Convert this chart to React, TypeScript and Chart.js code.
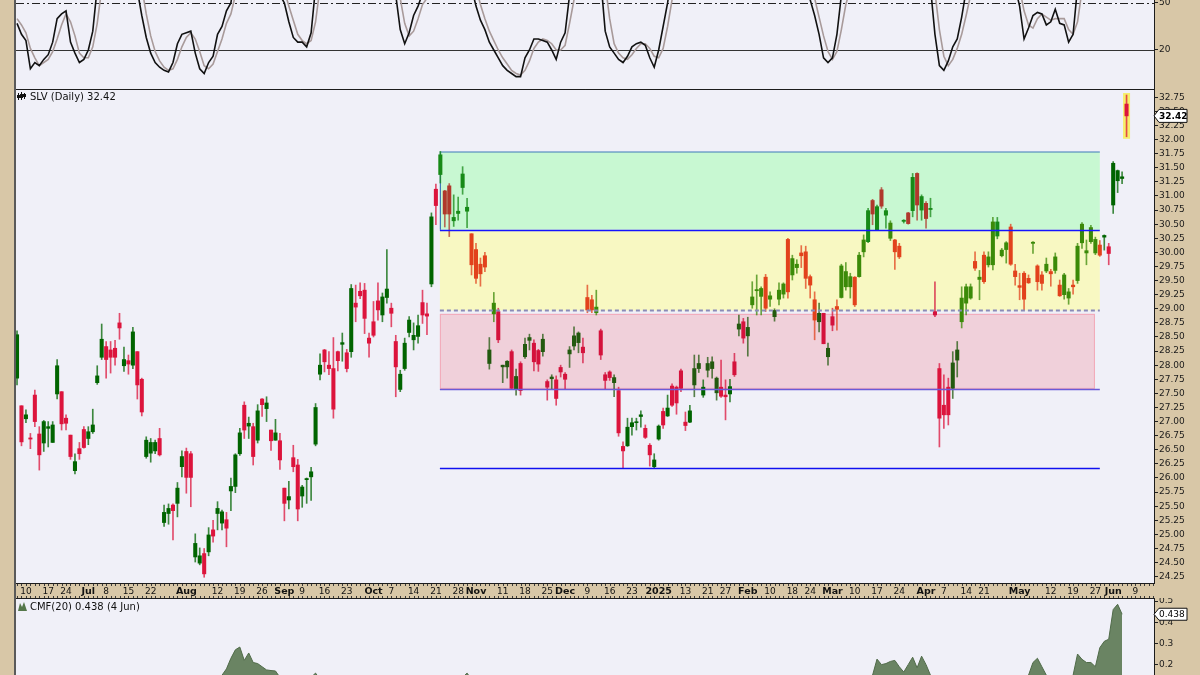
import React, { useEffect, useRef } from 'react';
import { Chart, registerables } from 'chart.js';

Chart.register(...registerables);

const FONT = "'DejaVu Sans', 'Liberation Sans', sans-serif";
const PAGE_BG = '#d8c7a7';
const PLOT_BG = '#f0f0f8';

// trading-day index: 0 = 1 Jul 2024; first candle = 6 Jun 2024 (index -16)
const FIRST_DAY = -16;
const X_MIN = -16.23;
const X_MAX = 239.16;

const opens = [
  27.77,27.28,27.05,26.71,27.47,26.78,26.62,26.88,26.63,27.49,
  27.53,27.06,26.76,26.13,26.52,26.86,
  26.70,26.82,27.69,28.14,28.33,28.27,28.30,28.75,27.99,28.08,
  28.00,28.24,27.75,26.38,26.44,26.48,26.70,25.21,25.37,25.52,
  25.55,26.20,26.47,26.43,24.60,24.49,24.66,24.69,25.08,25.37,
  25.20,25.26,25.77,25.85,26.43,27.29,26.92,26.91,26.67,27.40,
  27.23,26.85,26.67,26.66,25.82,25.61,26.36,26.23,25.68,25.97,
  26.02,26.60,27.84,28.27,28.00,27.94,28.24,28.37,28.22,28.24,
  29.10,29.31,29.33,28.48,28.77,29.14,28.89,29.20,29.01,28.42,
  27.57,27.94,28.58,28.45,28.51,29.11,28.91,29.44,31.12,31.38,
  31.09,31.18,30.56,30.69,31.15,30.73,30.33,30.05,29.79,29.94,
  28.03,28.91,28.95,27.97,27.97,28.24,27.57,28.03,28.15,28.44,
  28.39,28.26,28.24,27.71,27.76,27.74,27.96,27.84,28.20,28.34,
  28.40,28.32,29.20,29.16,28.93,28.61,27.83,27.88,27.69,27.55,
  26.56,26.57,26.91,26.98,27.09,26.88,26.58,26.20,26.69,27.18,
  27.10,27.63,27.61,27.90,26.99,26.99,27.65,27.94,27.47,27.91,
  27.94,27.51,27.61,27.47,27.49,28.06,28.64,28.77,28.52,29.07,
  29.32,29.22,29.56,29.17,28.86,29.17,29.26,30.23,29.60,29.73,
  29.99,30.01,29.57,29.16,28.77,28.92,28.15,28.86,29.04,29.20,
  29.39,29.39,29.56,29.57,30.01,30.19,30.92,30.40,31.11,30.66,
  30.25,30.22,30.11,30.55,30.70,30.74,31.40,30.75,30.87,30.76,
  28.95,27.94,27.29,27.61,27.59,28.09,28.77,29.10,29.19,29.84,
  29.52,29.95,29.78,29.78,30.29,29.94,30.05,30.45,29.67,29.41,
  29.63,29.54,30.16,29.76,29.60,29.67,29.66,29.68,29.42,29.25,
  29.19,29.42,29.50,30.17,29.99,30.19,29.99,30.13,30.27,30.10,
  30.84,31.27,31.31,32.63,
];
const highs = [
  28.61,27.28,27.21,26.79,27.56,26.91,27.02,27.00,27.00,28.10,
  27.53,27.12,26.76,26.43,26.63,26.91,
  26.91,27.22,27.99,28.73,28.42,28.42,28.44,28.92,28.32,28.18,
  28.67,28.24,27.77,26.73,26.70,26.67,26.88,25.52,25.54,25.54,
  25.92,26.48,26.53,26.47,25.01,24.76,24.75,25.12,25.25,25.58,
  25.43,25.39,26.00,26.43,26.88,27.35,27.08,26.97,27.30,27.41,
  27.44,26.85,27.04,26.79,25.82,25.94,26.58,26.33,25.87,26.00,
  26.19,27.32,28.20,28.28,28.24,28.49,28.25,28.57,28.28,29.43,
  29.42,29.46,29.45,28.57,29.13,29.46,29.28,30.05,29.10,28.53,
  27.91,28.48,28.86,28.75,28.89,29.33,29.10,30.70,31.21,31.79,
  31.10,31.22,31.02,30.98,31.52,30.96,30.33,30.16,29.90,30.00,
  28.49,29.29,29.01,28.00,28.08,28.27,27.93,28.06,28.48,28.55,
  28.45,28.28,28.55,27.74,27.83,27.81,28.00,27.87,28.33,28.68,
  28.59,28.48,29.42,29.24,29.33,28.64,27.87,27.90,27.83,27.61,
  26.64,27.06,27.06,27.06,27.19,26.94,26.61,26.43,26.94,27.24,
  27.47,27.67,27.63,27.93,27.17,27.29,28.18,28.18,27.74,28.14,
  28.15,27.79,28.09,27.74,27.75,28.21,28.89,28.83,28.85,29.48,
  29.60,29.39,29.61,29.30,29.00,29.46,29.46,30.25,29.95,29.87,
  30.12,30.11,29.60,29.30,29.10,28.92,28.39,29.01,29.16,29.79,
  29.82,29.63,29.57,30.00,30.31,30.78,30.94,30.84,31.15,30.78,
  30.56,30.23,30.16,30.58,30.71,31.40,31.41,31.02,30.90,30.96,
  29.48,28.03,27.83,27.77,28.24,28.42,29.39,29.44,29.44,30.01,
  29.68,30.01,30.01,30.62,30.62,30.07,30.19,30.50,29.79,29.63,
  29.66,29.60,30.19,29.78,29.66,29.90,29.70,29.99,29.51,29.63,
  29.36,29.51,30.16,30.53,30.22,30.48,30.27,30.21,30.31,30.16,
  31.61,31.46,31.43,32.79,
];
const lows = [
  27.65,26.57,26.98,26.52,26.91,26.14,26.47,26.55,26.63,27.40,
  26.85,26.85,26.33,26.07,26.33,26.53,
  26.59,26.79,27.66,28.10,27.77,27.86,28.00,28.46,27.89,27.84,
  27.94,27.40,27.10,26.35,26.28,26.43,26.39,25.14,25.18,24.90,
  25.31,26.02,25.73,25.49,24.51,24.46,24.24,24.62,24.86,25.08,
  25.08,24.78,25.42,25.74,26.40,26.70,26.70,26.23,26.62,27.09,
  27.00,26.49,26.67,26.15,25.24,25.45,26.11,25.24,25.48,25.55,
  25.60,26.57,27.74,27.88,27.83,27.06,27.90,28.07,27.88,28.14,
  28.77,29.18,28.56,28.14,28.50,28.80,28.77,29.10,28.68,27.44,
  27.53,27.91,28.50,28.27,28.39,28.74,28.54,29.39,30.49,31.23,
  30.45,30.28,30.46,30.57,31.03,30.44,29.60,29.45,29.40,29.66,
  27.93,28.77,28.40,27.69,27.77,27.57,27.47,27.47,28.12,28.27,
  27.90,27.89,28.16,27.38,27.57,27.29,27.79,27.57,27.96,28.27,
  28.22,28.04,28.93,28.93,28.89,28.10,27.57,27.73,27.44,26.74,
  26.17,26.56,26.76,26.85,26.90,26.70,26.21,26.17,26.67,26.88,
  27.09,27.27,27.13,27.53,26.84,26.98,27.44,27.87,27.43,27.79,
  27.77,27.38,27.43,27.03,27.35,27.80,28.52,28.39,28.16,29.01,
  28.89,28.89,28.95,29.04,28.78,29.07,29.19,29.19,29.51,29.63,
  29.73,29.36,29.19,28.45,28.59,28.38,28.00,28.61,28.62,29.19,
  29.33,29.19,29.04,29.56,29.92,30.17,30.49,30.40,30.78,30.43,
  30.21,29.70,29.89,30.52,30.50,30.63,30.57,30.57,30.43,30.63,
  28.86,26.55,26.88,26.94,27.41,27.79,28.66,28.89,29.17,29.68,
  29.16,29.45,29.74,29.69,30.24,29.92,29.81,29.77,29.42,29.16,
  28.98,29.45,29.98,29.33,29.33,29.64,29.40,29.63,29.22,29.17,
  29.08,29.26,29.45,30.07,29.78,30.16,29.96,29.93,30.04,29.78,
  30.69,31.06,31.22,32.05,
];
const closes = [
  28.54,26.64,27.12,26.69,27.00,26.41,27.00,26.91,26.94,27.99,
  26.96,26.97,26.38,26.29,26.43,26.54,
  26.82,26.94,27.81,28.46,28.10,28.14,28.14,28.66,28.10,28.02,
  28.59,27.65,27.17,26.67,26.63,26.63,26.41,25.39,25.46,25.42,
  25.82,26.38,26.01,26.01,24.84,24.62,24.30,24.99,24.97,25.46,
  25.40,25.11,25.85,26.41,26.80,26.85,26.97,26.38,27.19,27.30,
  27.33,26.66,26.80,26.32,25.55,25.67,26.20,25.45,25.84,25.99,
  26.11,27.25,28.00,28.06,27.94,27.22,28.08,28.40,27.94,29.36,
  29.03,29.23,28.83,28.39,28.53,28.98,29.21,29.35,28.92,27.97,
  27.84,28.39,28.80,28.53,28.70,28.89,28.87,30.63,30.83,31.73,
  30.68,30.68,30.62,30.73,31.39,30.80,29.78,29.54,29.62,29.74,
  28.27,29.10,28.45,28.00,28.07,27.59,27.80,27.55,28.37,28.49,
  28.06,28.02,28.46,27.61,27.79,27.41,27.88,27.75,28.27,28.52,
  28.57,28.22,28.98,28.98,29.03,28.18,27.73,27.78,27.78,26.80,
  26.48,26.90,26.98,26.99,27.12,26.72,26.41,26.32,26.92,26.94,
  27.24,27.29,27.33,27.59,26.93,27.19,27.94,28.03,27.61,28.03,
  28.06,27.77,27.45,27.44,27.62,27.83,28.73,28.48,28.67,29.21,
  29.34,29.36,29.01,29.23,28.97,29.33,29.44,29.30,29.89,29.79,
  29.94,29.54,29.42,28.80,28.92,28.38,28.30,28.71,28.99,29.76,
  29.66,29.57,29.07,29.95,30.22,30.74,30.68,30.81,30.82,30.74,
  30.52,30.01,29.92,30.57,30.51,31.33,30.84,30.99,30.60,30.78,
  28.89,27.06,27.12,27.12,28.04,28.27,29.19,29.39,29.39,29.72,
  29.56,29.48,29.92,30.54,30.54,30.04,30.17,29.79,29.57,29.38,
  29.17,29.46,30.18,29.48,29.45,29.79,29.62,29.92,29.23,29.60,
  29.30,29.39,30.11,30.50,30.03,30.44,30.23,29.95,30.30,29.98,
  31.58,31.45,31.34,32.42,
];

const stochK = [
  37,30,26,8,12,10,14,17,25,40,
  43,45,25,18,12,14,
  20,32,60,85,80,78,80,90,75,72,
  80,58,42,28,18,12,9,7,6,12,
  24,30,31,32,18,8,5,12,16,30,
  35,45,50,70,85,90,80,70,82,88,
  90,75,68,55,50,38,28,25,25,22,
  31,60,88,85,82,70,78,84,80,92,
  90,92,85,75,78,82,84,88,70,55,
  33,24,31,42,48,56,55,88,92,96,
  85,80,75,74,85,72,60,48,39,33,
  25,20,15,10,7,5,3,3,15,20,
  27,27,26,25,20,14,25,31,55,70,
  75,72,88,90,88,65,32,22,18,14,
  12,16,22,24,25,23,15,9,20,35,
  50,70,72,80,60,65,85,88,75,85,
  86,78,75,72,74,82,92,88,86,92,
  94,93,85,85,80,84,86,70,78,76,
  75,65,52,42,30,15,12,15,30,55,
  62,60,55,70,80,92,88,90,94,88,
  80,70,68,80,78,92,85,84,80,60,
  30,10,7,13,22,27,41,58,65,78,
  70,72,78,90,92,85,84,70,60,48,
  27,34,42,44,43,36,38,46,37,36,
  25,30,60,85,78,85,82,78,82,78,
  95,94,92,96,
];
const stochD = [
  40,36,31,21,15,10,12,14,19,27,
  36,43,38,29,18,15,
  15,22,37,59,75,81,79,83,82,79,
  76,70,60,43,29,19,13,9,7,8,
  14,22,28,31,27,19,10,8,11,19,
  27,37,43,55,68,82,85,80,77,80,
  87,84,78,66,58,48,39,30,26,24,
  26,38,60,78,85,79,77,77,81,85,
  87,91,89,84,79,78,81,85,81,71,
  53,37,29,32,40,49,53,66,78,92,
  91,87,80,76,78,77,72,60,49,40,
  32,26,20,15,11,7,5,4,7,13,
  21,25,27,26,24,20,20,23,37,52,
  67,72,78,83,89,81,62,40,24,18,
  15,14,17,21,24,24,21,16,15,21,
  35,52,64,74,71,68,70,79,83,83,
  82,83,80,75,74,76,83,87,89,89,
  91,93,91,88,83,83,83,80,78,75,
  76,72,64,53,41,29,19,14,19,33,
  49,59,59,62,68,81,87,90,91,91,
  87,79,73,73,75,83,85,87,83,75,
  57,33,16,10,14,21,30,42,55,67,
  71,73,73,80,87,89,87,80,71,59,
  45,36,34,40,43,41,39,40,40,40,
  33,30,38,58,74,83,82,82,81,79,
  85,89,94,94,
];

const cmfValues = [
  0.02,0.01,-0.02,-0.04,-0.03,-0.05,-0.02,0.01,0.03,0.02,
  -0.01,-0.03,-0.04,-0.02,0.00,0.02,
  0.04,0.06,0.08,0.10,0.09,0.08,0.07,0.09,0.06,0.05,
  0.07,0.05,0.02,0.00,-0.02,-0.03,-0.05,-0.04,-0.02,0.00,
  0.02,0.05,0.06,0.07,0.05,0.04,0.03,0.06,0.08,0.12,
  0.15,0.18,0.23,0.27,0.283,0.22,0.255,0.21,0.205,0.19,
  0.175,0.172,0.17,0.14,0.10,0.09,0.11,0.10,0.12,0.13,
  0.14,0.16,0.13,0.11,0.10,0.08,0.09,0.10,0.09,0.12,
  0.11,0.10,0.08,0.06,0.07,0.08,0.09,0.10,0.08,0.05,
  0.04,0.06,0.07,0.08,0.09,0.10,0.09,0.12,0.13,0.14,
  0.12,0.11,0.12,0.13,0.14,0.16,0.13,0.10,0.08,0.07,
  0.05,0.06,0.04,0.02,0.01,-0.01,-0.02,-0.04,-0.03,-0.02,
  -0.03,-0.05,-0.04,-0.06,-0.07,-0.08,-0.07,-0.06,-0.04,-0.03,
  -0.02,-0.03,0.00,0.01,0.02,0.00,-0.03,-0.05,-0.06,-0.09,
  -0.10,-0.08,-0.07,-0.06,-0.05,-0.07,-0.08,-0.06,-0.04,-0.03,
  -0.02,-0.01,0.00,0.01,-0.01,0.00,0.02,0.03,0.02,0.04,
  0.05,0.04,0.03,0.02,0.03,0.05,0.07,0.06,0.05,0.08,
  0.09,0.10,0.08,0.09,0.07,0.08,0.10,0.09,0.11,0.12,
  0.11,0.10,0.08,0.05,0.06,0.04,0.03,0.05,0.06,0.09,
  0.10,0.11,0.09,0.11,0.12,0.13,0.15,0.226,0.20,0.205,
  0.215,0.22,0.19,0.165,0.20,0.235,0.185,0.24,0.20,0.15,
  0.10,0.06,0.04,0.03,0.05,0.06,0.08,0.09,0.10,0.11,
  0.12,0.11,0.12,0.13,0.14,0.13,0.12,0.11,0.10,0.12,
  0.14,0.15,0.21,0.23,0.19,0.15,0.12,0.11,0.10,0.11,
  0.12,0.15,0.25,0.225,0.21,0.21,0.19,0.28,0.31,0.32,
  0.46,0.485,0.438,
];

const priceTicks = [24.25,24.5,24.75,25,25.25,25.5,25.75,26,26.25,26.5,26.75,27,27.25,27.5,27.75,28,28.25,28.5,28.75,29,29.25,29.5,29.75,30,30.25,30.5,30.75,31,31.25,31.5,31.75,32,32.25,32.5,32.75];
const stochTicks = [20, 50];
const cmfTicks = [0.2, 0.3, 0.4, 0.5];
const xTickDays = [-14,-9,-5,0,4,9,14,22,29,34,39,44,48,53,58,64,68,73,78,83,87,93,98,103,107,112,117,122,128,134,139,143,148,153,158,162,167,172,177,182,188,192,197,201,209,216,221,226,230,235];
const xTickLabels = ['10','17','24','Jul','8','15','22','Aug','12','19','26','Sep','9','16','23','Oct','7','14','21','28','Nov','11','18','25','Dec','9','16','23','2025','13','21','27','Feb','10','18','24','Mar','10','17','24','Apr','7','14','21','May','12','19','27','Jun','9'];

const PRICE_MIN = 24.138, PRICE_MAX = 32.879;
const STOCH_MIN = -4.9, STOCH_MAX = 51.9;
const CMF_MIN = 0.151, CMF_MAX = 0.51;

// annotation zones
const zoneStartDay = 78.9;
const zoneEndDay = 227.0;
const pinkEndDay = 225.9;
const greenTop = 31.78;
const resistanceLine = 30.40;
const dashedLine = 28.97;
const pinkTop = 28.91;
const supportLine = 27.58;
const lowLine = 26.18;

const candlePalette: Record<string, [string, string]> = {
  none: ['#006400', '#dc143c'],
  green: ['#178a17', '#b0382c'],
  yellow: ['#3b8a08', '#e2421c'],
  pink: ['#23590f', '#d4123c'],
};

function zoneOf(i: number): string {
  const day = FIRST_DAY + i;
  if (day < zoneStartDay || day > zoneEndDay) return 'none';
  const mid = (opens[i] + closes[i]) / 2;
  if (mid > resistanceLine && mid <= greenTop + 0.1) return 'green';
  if (mid > dashedLine && mid <= resistanceLine) return 'yellow';
  if (mid >= supportLine && mid <= pinkTop + 0.04) return 'pink';
  return 'none';
}
function candleColor(i: number): string {
  const up = closes[i] >= opens[i];
  return candlePalette[zoneOf(i)][up ? 0 : 1];
}
function withAlpha(hex: string, a: number): string {
  const r = parseInt(hex.slice(1, 3), 16), g = parseInt(hex.slice(3, 5), 16), b = parseInt(hex.slice(5, 7), 16);
  return `rgba(${r},${g},${b},${a})`;
}

const panelPlugin = {
  id: 'panelFrame',
  beforeDraw(chart: any) {
    const { ctx, chartArea: a } = chart;
    ctx.save();
    ctx.fillStyle = PLOT_BG;
    ctx.fillRect(a.left, a.top, a.right - a.left, a.bottom - a.top);
    ctx.restore();
  },
  afterDraw(chart: any) {
    const { ctx, chartArea: a } = chart;
    ctx.save();
    ctx.strokeStyle = '#1c1c1c';
    ctx.lineWidth = 1;
    ctx.beginPath();
    ctx.moveTo(a.left, a.top - 0.5); ctx.lineTo(a.right + 0.5, a.top - 0.5);
    ctx.lineTo(a.right + 0.5, a.bottom + 0.5); ctx.lineTo(a.left, a.bottom + 0.5);
    ctx.stroke();
    ctx.strokeStyle = '#5a5a5a';
    ctx.lineWidth = 2;
    ctx.beginPath();
    ctx.moveTo(a.left - 1, a.top - 1); ctx.lineTo(a.left - 1, a.bottom + 1);
    ctx.stroke();
    ctx.restore();
  },
};

const stochLevelsPlugin = {
  id: 'stochLevels',
  beforeDatasetsDraw(chart: any) {
    const { ctx, chartArea: a, scales } = chart;
    const y50 = Math.round(scales.y.getPixelForValue(stochTicks[1])) + 0.5;
    const y20 = Math.round(scales.y.getPixelForValue(stochTicks[0])) + 0.5;
    ctx.save();
    ctx.strokeStyle = '#222';
    ctx.lineWidth = 1;
    ctx.setLineDash([8, 3, 2, 3]);
    ctx.beginPath(); ctx.moveTo(a.left, y50); ctx.lineTo(a.right, y50); ctx.stroke();
    ctx.setLineDash([]);
    ctx.strokeStyle = '#333';
    ctx.lineWidth = 1.2;
    ctx.beginPath(); ctx.moveTo(a.left, y20); ctx.lineTo(a.right, y20); ctx.stroke();
    ctx.restore();
  },
};

const zonesPlugin = {
  id: 'zones',
  beforeDatasetsDraw(chart: any) {
    const { ctx, scales } = chart;
    const xs = scales.x, ys = scales.y;
    const x0 = xs.getPixelForValue(zoneStartDay);
    const x1 = xs.getPixelForValue(zoneEndDay);
    const xp = xs.getPixelForValue(pinkEndDay);
    const y = (v: number) => ys.getPixelForValue(v);
    ctx.save();
    ctx.fillStyle = '#c8f8d2';
    ctx.fillRect(x0, y(greenTop), x1 - x0, y(resistanceLine) - y(greenTop));
    ctx.fillStyle = '#f8f8c2';
    ctx.fillRect(x0, y(resistanceLine), x1 - x0, y(dashedLine) - y(resistanceLine));
    ctx.fillStyle = '#f0d0da';
    ctx.fillRect(x0, y(pinkTop), xp - x0, y(supportLine) - y(pinkTop));
    ctx.strokeStyle = '#f2a8b8';
    ctx.lineWidth = 1;
    ctx.strokeRect(x0 + 0.5, y(pinkTop) + 0.5, xp - x0 - 1, y(supportLine) - y(pinkTop) - 1);
    ctx.strokeStyle = '#3f78b8';
    ctx.lineWidth = 1.2;
    ctx.beginPath();
    ctx.moveTo(x0 + 0.5, y(resistanceLine)); ctx.lineTo(x0 + 0.5, y(greenTop)); ctx.lineTo(x1, y(greenTop));
    ctx.stroke();
    // highlight of the latest bar
    const last = opens.length - 1;
    const xl = xs.getPixelForValue(FIRST_DAY + last);
    ctx.fillStyle = 'rgba(246,238,90,0.9)';
    ctx.fillRect(xl - 3.5, y(highs[last]) - 2, 7, y(lows[last]) - y(highs[last]) + 4);
    ctx.restore();
  },
  afterDatasetsDraw(chart: any) {
    const { ctx, scales } = chart;
    const xs = scales.x, ys = scales.y;
    const x0 = xs.getPixelForValue(zoneStartDay);
    const x1 = xs.getPixelForValue(zoneEndDay);
    const y = (v: number) => Math.round(ys.getPixelForValue(v)) + 0.5;
    ctx.save();
    ctx.strokeStyle = '#1414ff';
    ctx.lineWidth = 1.6;
    ctx.beginPath(); ctx.moveTo(x0, y(resistanceLine)); ctx.lineTo(x1, y(resistanceLine)); ctx.stroke();
    ctx.strokeStyle = '#8a8ab8';
    ctx.lineWidth = 2;
    ctx.setLineDash([4, 3]);
    ctx.beginPath(); ctx.moveTo(x0, y(dashedLine)); ctx.lineTo(x1, y(dashedLine)); ctx.stroke();
    ctx.setLineDash([]);
    ctx.strokeStyle = '#6a5ad8';
    ctx.lineWidth = 1.6;
    ctx.beginPath(); ctx.moveTo(x0, y(supportLine)); ctx.lineTo(x1, y(supportLine)); ctx.stroke();
    ctx.strokeStyle = '#1010f0';
    ctx.lineWidth = 1.4;
    ctx.beginPath(); ctx.moveTo(x0, y(lowLine)); ctx.lineTo(x1, y(lowLine)); ctx.stroke();
    ctx.restore();
  },
  afterDraw(chart: any) {
    const { ctx, scales, chartArea: a } = chart;
    const xs = scales.x, ys = scales.y;
    ctx.save();
    // date strip: day tick dots
    ctx.strokeStyle = '#3a3a3a';
    ctx.lineWidth = 1;
    const bottom = chart.height;
    for (let d = Math.ceil(X_MIN); d <= Math.floor(X_MAX); d++) {
      const px = Math.round(xs.getPixelForValue(d)) + 0.5;
      ctx.beginPath();
      ctx.moveTo(px, a.bottom + 1); ctx.lineTo(px, a.bottom + 3);
      ctx.moveTo(px, bottom - 3); ctx.lineTo(px, bottom - 1);
      ctx.stroke();
    }
    ctx.beginPath();
    ctx.moveTo(a.left - 2, bottom - 0.5); ctx.lineTo(a.right + 1, bottom - 0.5);
    ctx.stroke();
    ctx.fillStyle = '#5a5a5a';
    ctx.fillRect(a.left - 2, a.bottom, 2, bottom - a.bottom);
    // date labels, placed with the x scale
    ctx.fillStyle = '#111';
    ctx.textAlign = 'center';
    ctx.textBaseline = 'middle';
    xTickDays.forEach((d, i) => {
      const t = xTickLabels[i];
      const isDay = /^[0-9]{1,2}$/.test(t);
      ctx.font = isDay ? `9px ${FONT}` : `bold 9.5px ${FONT}`;
      ctx.fillText(t, xs.getPixelForValue(d), a.bottom + 8.5);
    });
    // title
    ctx.textAlign = 'left';
    ctx.fillStyle = '#111';
    ctx.fillRect(18, a.top + 3, 1, 7);
    ctx.fillRect(17, a.top + 5, 3, 3);
    ctx.fillRect(21, a.top + 2, 1, 8);
    ctx.fillRect(20, a.top + 4, 3, 4);
    ctx.fillRect(24, a.top + 3, 1, 6);
    ctx.fillRect(23, a.top + 4, 3, 3);
    ctx.font = `10px ${FONT}`;
    ctx.fillText('SLV (Daily) ' + closes[closes.length - 1].toFixed(2), 30, a.top + 7);
    // last price box
    const yv = ys.getPixelForValue(closes[closes.length - 1]);
    const bx = a.right + 1;
    ctx.beginPath();
    ctx.moveTo(bx - 1, yv);
    ctx.lineTo(bx + 4, yv - 6.5);
    ctx.lineTo(bx + 32, yv - 6.5);
    ctx.lineTo(bx + 32, yv + 6.5);
    ctx.lineTo(bx + 4, yv + 6.5);
    ctx.closePath();
    ctx.fillStyle = '#ffffff';
    ctx.fill();
    ctx.strokeStyle = '#111';
    ctx.lineWidth = 1;
    ctx.stroke();
    ctx.fillStyle = '#000';
    ctx.font = `bold 9px ${FONT}`;
    ctx.fillText(closes[closes.length - 1].toFixed(2), bx + 4, yv + 0.5);
    ctx.restore();
  },
};

const cmfPlugin = {
  id: 'cmfDecor',
  afterDraw(chart: any) {
    const { ctx, scales, chartArea: a } = chart;
    ctx.save();
    ctx.fillStyle = '#55774a';
    ctx.beginPath();
    ctx.moveTo(18, a.top + 12); ctx.lineTo(20, a.top + 4); ctx.lineTo(22, a.top + 8);
    ctx.lineTo(24, a.top + 3); ctx.lineTo(27, a.top + 12); ctx.closePath();
    ctx.fill();
    const lastVal = cmfValues[cmfValues.length - 1];
    ctx.fillStyle = '#111';
    ctx.font = `10px ${FONT}`;
    ctx.textBaseline = 'middle';
    ctx.fillText('CMF(20) ' + lastVal.toFixed(3) + ' (4 Jun)', 30, a.top + 8);
    const yv = scales.y.getPixelForValue(lastVal);
    const bx = a.right + 1;
    ctx.beginPath();
    ctx.moveTo(bx - 1, yv);
    ctx.lineTo(bx + 4, yv - 6);
    ctx.lineTo(bx + 32, yv - 6);
    ctx.lineTo(bx + 32, yv + 6);
    ctx.lineTo(bx + 4, yv + 6);
    ctx.closePath();
    ctx.fillStyle = '#ffffff';
    ctx.fill();
    ctx.strokeStyle = '#111';
    ctx.stroke();
    ctx.fillStyle = '#000';
    ctx.font = `9px ${FONT}`;
    ctx.fillText(lastVal.toFixed(3), bx + 4, yv + 0.5);
    ctx.restore();
  },
};

function rightAxis(min: number, max: number, ticks: number[], decimals: number) {
  return {
    position: 'right' as const,
    min,
    max,
    afterFit: (s: any) => { s.width = 46; s.paddingTop = 0; s.paddingBottom = 0; },
    afterBuildTicks: (s: any) => { s.ticks = ticks.map((v) => ({ value: v })); },
    grid: { drawOnChartArea: false, drawTicks: true, tickLength: 4, color: '#222' },
    border: { display: true, color: '#1c1c1c' },
    ticks: {
      font: { family: FONT, size: 9 },
      color: '#1a1a1a',
      padding: 1,
      autoSkip: false,
      callback: (v: any) => Number(v).toFixed(decimals),
    },
  };
}

export default function App() {
  const stochRef = useRef<HTMLCanvasElement>(null);
  const mainRef = useRef<HTMLCanvasElement>(null);
  const cmfRef = useRef<HTMLCanvasElement>(null);

  useEffect(() => {
    const charts: Chart[] = [];
    const common = {
      animation: false as const,
      responsive: false,
      maintainAspectRatio: false,
      events: [] as any[],
      plugins: { legend: { display: false }, tooltip: { enabled: false } },
    };

    charts.push(new Chart(stochRef.current!, {
      type: 'line',
      data: {
        datasets: [
          { data: stochK.map((v, i) => ({ x: FIRST_DAY + i, y: v })), borderColor: '#111111', borderWidth: 1.6, pointRadius: 0, tension: 0, order: 0 },
          { data: stochD.map((v, i) => ({ x: FIRST_DAY + i, y: v })), borderColor: '#a89a9a', borderWidth: 1.6, pointRadius: 0, tension: 0, order: 1 },
        ],
      },
      options: {
        ...common,
        layout: { padding: { left: 16, top: 0, right: 0, bottom: 1 } },
        scales: {
          x: { type: 'linear', min: X_MIN, max: X_MAX, display: false },
          y: rightAxis(STOCH_MIN, STOCH_MAX, stochTicks, 0),
        },
      } as any,
      plugins: [panelPlugin, stochLevelsPlugin],
    }));

    charts.push(new Chart(mainRef.current!, {
      type: 'bar',
      data: {
        datasets: [
          {
            label: 'body',
            data: opens.map((o, i) => ({ x: FIRST_DAY + i, y: [o, closes[i]] })) as any,
            backgroundColor: (c: any) => candleColor(c.dataIndex),
            barThickness: 3.4,
            minBarLength: 1,
            grouped: false,
            borderWidth: 0,
            order: 0,
          },
          {
            label: 'wick',
            data: lows.map((l, i) => ({ x: FIRST_DAY + i, y: [l, highs[i]] })) as any,
            backgroundColor: (c: any) => withAlpha(candleColor(c.dataIndex), 0.75),
            barThickness: 1,
            grouped: false,
            borderWidth: 0,
            order: 1,
          },
        ],
      },
      options: {
        ...common,
        layout: { padding: { left: 16, top: 1, right: 0, bottom: 0 } },
        scales: {
          x: {
            type: 'linear',
            min: X_MIN,
            max: X_MAX,
            offset: false,
            afterFit: (s: any) => { s.height = 16; s.paddingLeft = 0; s.paddingRight = 0; },
            afterBuildTicks: (s: any) => { s.ticks = xTickDays.map((v) => ({ value: v })); },
            grid: { display: false },
            border: { display: false },
            ticks: { display: false },
          },
          y: rightAxis(PRICE_MIN, PRICE_MAX, priceTicks, 2),
        },
      } as any,
      plugins: [panelPlugin, zonesPlugin],
    }));

    charts.push(new Chart(cmfRef.current!, {
      type: 'line',
      data: {
        datasets: [
          {
            data: cmfValues.map((v, i) => ({ x: FIRST_DAY + i, y: v })),
            borderColor: '#506b49',
            backgroundColor: '#6a8463',
            borderWidth: 1,
            fill: 'origin',
            pointRadius: 0,
            tension: 0,
          },
        ],
      },
      options: {
        ...common,
        layout: { padding: { left: 16, top: 1, right: 0, bottom: 0 } },
        scales: {
          x: { type: 'linear', min: X_MIN, max: X_MAX, display: false },
          y: rightAxis(CMF_MIN, CMF_MAX, cmfTicks, 1),
        },
      } as any,
      plugins: [panelPlugin, cmfPlugin],
    }));

    return () => { charts.forEach((c) => c.destroy()); };
  }, []);

  return (
    <div style={{ position: 'absolute', left: 0, top: 0, width: 1200, height: 675, background: PAGE_BG, overflow: 'hidden' }}>
      <canvas ref={stochRef} width={1200} height={90} style={{ position: 'absolute', left: 0, top: 0 }} />
      <canvas ref={mainRef} width={1200} height={510} style={{ position: 'absolute', left: 0, top: 89 }} />
      <canvas ref={cmfRef} width={1200} height={77} style={{ position: 'absolute', left: 0, top: 598 }} />
    </div>
  );
}
